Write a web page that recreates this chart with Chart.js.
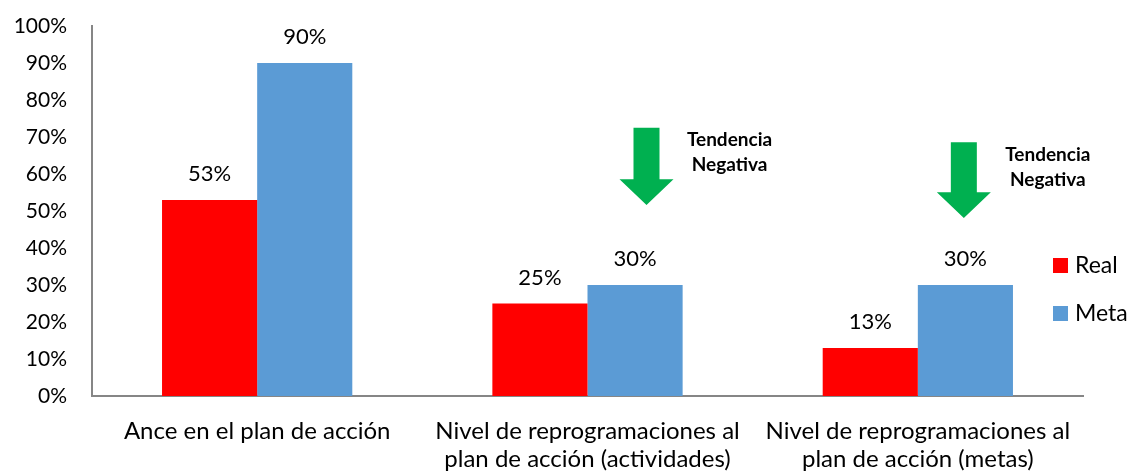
<!DOCTYPE html>
<html><head><meta charset="utf-8">
<script src="https://cdn.jsdelivr.net/npm/chart.js@4/dist/chart.umd.min.js"></script>
<style>html,body{margin:0;padding:0;background:#fff}#wrap{width:1131px;height:473px}</style>
</head><body><div id="wrap"><canvas id="c" width="1131" height="473"></canvas></div>
<script>
const categories = [
  "Ance en el plan de acción",
  ["Nivel de reprogramaciones al", "plan de acción (actividades)"],
  ["Nivel de reprogramaciones al", "plan de acción (metas)"]
];
const realValues = [53, 25, 13];
const metaValues = [90, 30, 30];
const yTicks = [0,10,20,30,40,50,60,70,80,90,100];
const seriesNames = ["Real", "Meta"];
const annotationText = ["Tendencia", "Negativa"];

const FONT = "Lato, 'Open Sans', sans-serif";
const RED = "#FF0000", BLUE = "#5B9BD5", GREEN = "#00B050";

const extras = {
  id: 'extras',
  afterDatasetsDraw(chart) {
    const ctx = chart.ctx, x = chart.scales.x, y = chart.scales.y;
    ctx.save();
    ctx.fillStyle = '#000';
    ctx.font = '22px ' + FONT;
    ctx.textAlign = 'center';
    ctx.textBaseline = 'middle';
    chart.data.datasets.forEach((ds, di) => {
      chart.getDatasetMeta(di).data.forEach((bar, i) => {
        ctx.fillText(ds.data[i] + '%', bar.x, bar.y - 26);
      });
    });
    const arrows = [
      {cat: 1, dx: 59, shaftTop: 72.5, headTop: 58.6, tip: 51.6, tdx: 142, t1: 69.2, t2: 62.4},
      {cat: 2, dx: 46, shaftTop: 68.6, headTop: 55.1, tip: 48.1, tdx: 130, t1: 65.1, t2: 58.4}
    ];
    arrows.forEach(a => {
      const cx = x.getPixelForValue(a.cat) + a.dx;
      ctx.fillStyle = GREEN;
      ctx.beginPath();
      ctx.moveTo(cx - 13, y.getPixelForValue(a.shaftTop));
      ctx.lineTo(cx + 13, y.getPixelForValue(a.shaftTop));
      ctx.lineTo(cx + 13, y.getPixelForValue(a.headTop));
      ctx.lineTo(cx + 27, y.getPixelForValue(a.headTop));
      ctx.lineTo(cx, y.getPixelForValue(a.tip));
      ctx.lineTo(cx - 27, y.getPixelForValue(a.headTop));
      ctx.lineTo(cx - 13, y.getPixelForValue(a.headTop));
      ctx.closePath();
      ctx.fill();
      ctx.fillStyle = '#000';
      ctx.font = 'bold 19px ' + FONT;
      const tx = x.getPixelForValue(a.cat) + a.tdx;
      ctx.fillText(annotationText[0], tx, y.getPixelForValue(a.t1));
      ctx.fillText(annotationText[1], tx, y.getPixelForValue(a.t2));
    });
    const colors = [RED, BLUE];
    ctx.textAlign = 'left';
    ctx.font = '23px ' + FONT;
    seriesNames.forEach((n, i) => {
      const cy = 265 + i * 48;
      ctx.fillStyle = colors[i];
      ctx.fillRect(1053, cy - 7, 15, 15);
      ctx.fillStyle = '#000';
      ctx.fillText(n, 1075, cy + 1);
    });
    ctx.restore();
  }
};

new Chart(document.getElementById('c'), {
  type: 'bar',
  data: {
    labels: categories,
    datasets: [
      {label: seriesNames[0], data: realValues, backgroundColor: RED},
      {label: seriesNames[1], data: metaValues, backgroundColor: BLUE}
    ]
  },
  options: {
    responsive: false,
    animation: false,
    layout: {padding: {top: 26, right: 48, left: 0, bottom: 0}},
    datasets: {bar: {categoryPercentage: 0.576, barPercentage: 1.0}},
    plugins: {legend: {display: false}, tooltip: {enabled: false}},
    scales: {
      x: {
        grid: {display: false, drawTicks: false},
        border: {color: '#868686', width: 2},
        ticks: {color: '#000', font: {family: FONT, size: 24, lineHeight: 1.18}, padding: 21, maxRotation: 0, autoSkip: false},
        afterFit(s) { s.height = 77; s.paddingLeft = 0; s.paddingRight = 0; }
      },
      y: {
        min: 0, max: 100,
        afterBuildTicks(s) { s.ticks = yTicks.map(v => ({value: v})); },
        grid: {display: false, drawTicks: false},
        border: {color: '#868686', width: 2},
        ticks: {color: '#000', font: {family: FONT, size: 21}, padding: 25, callback: v => v + '%'},
        afterFit(s) { s.width = 92; s.paddingTop = 0; s.paddingBottom = 0; }
      }
    }
  },
  plugins: [extras]
});
</script></body></html>
